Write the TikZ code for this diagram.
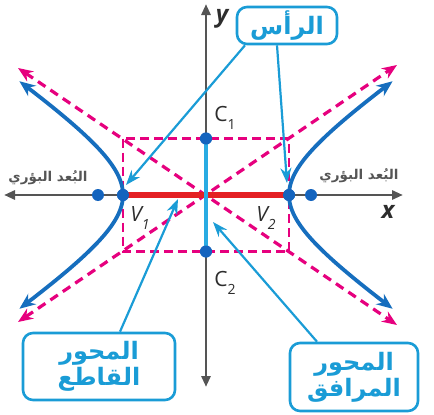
\documentclass[tikz,border=0pt]{standalone}
\usepackage{fontspec}
\newfontfamily\arabicfont[Script=Arabic]{DejaVu Sans}
\newfontfamily\labfont{Open Sans}
\TeXXeTstate=1
\usetikzlibrary{arrows.meta}
\definecolor{hblue}{RGB}{22,110,190}
\definecolor{mag}{RGB}{230,0,126}
\definecolor{redax}{RGB}{228,32,36}
\definecolor{cyanax}{RGB}{41,171,226}
\definecolor{call}{RGB}{26,156,214}
\definecolor{axgray}{RGB}{85,85,85}
\definecolor{labgray}{RGB}{45,45,45}
\definecolor{dotblue}{RGB}{20,100,190}
\tikzset{
  axisline/.style={draw=axgray, line width=2.8pt, {Triangle[length=11pt,width=9pt]}-{Triangle[length=11pt,width=9pt]}},
  asym/.style={draw=mag, line width=3.2pt, dash pattern=on 9pt off 6pt, {Stealth[length=15pt,width=12pt]}-{Stealth[length=15pt,width=12pt]}},
  rectdash/.style={draw=mag, line width=2.8pt, dash pattern=on 9pt off 5pt},
  branch/.style={draw=hblue, line width=3.8pt, {Stealth[length=16pt,width=13pt]}-{Stealth[length=16pt,width=13pt]}},
  dotnode/.style={circle, fill=dotblue, inner sep=0pt, minimum size=12pt},
  callbox/.style={draw=call, line width=2.6pt, rounded corners=10pt, fill=white, text=call, align=center, inner sep=0pt},
  callline/.style={draw=call, line width=2.2pt, -{Stealth[length=15pt,width=11pt]}},
  lab/.style={text=labgray, inner sep=0pt, font=\labfont\fontsize{21}{21}\selectfont},
  axlab/.style={text=labgray, inner sep=0pt, font=\labfont\bfseries\itshape\fontsize{24}{24}\selectfont},
  foclab/.style={text=axgray, inner sep=0pt, font=\arabicfont\bfseries\fontsize{13.5}{14}\selectfont},
  boxfont/.style={font=\arabicfont\bfseries\fontsize{24}{26}\selectfont}
}
\newcommand{\sbs}[1]{\raisebox{-0.4em}{\fontsize{14}{14}\selectfont #1}}
\begin{document}
\begin{tikzpicture}[x=1pt,y=-1pt]
\useasboundingbox (0,0) rectangle (434,415);
\coordinate (O) at (206,195);
% axes
\coordinate (xl) at (4,195);
\coordinate (xr) at (403,195);
\coordinate (yt) at (206,4);
\coordinate (yb) at (206,387);
\draw[axisline] (xl) -- (xr);
\draw[axisline] (yb) -- (yt);
% asymptotes
\coordinate (a1) at (18,322);
\coordinate (a2) at (397,65);
\coordinate (a3) at (18,68);
\coordinate (a4) at (397,325);
\draw[asym] (a1) -- (a2);
\draw[asym] (a3) -- (a4);
% dashed rectangle
\draw[rectdash] (123,138.5) rectangle (289,251.5);
% branches
\draw[branch] plot[domain=-1.45:1.45, samples=60] ({206-83*cosh(\x)},{195+56.5*sinh(\x)});
\draw[branch] plot[domain=-1.45:1.45, samples=60] ({206+83*cosh(\x)},{195-56.5*sinh(\x)});
% dots
\node[dotnode] (V1) at (123,195) {};
\node[dotnode] (V2) at (289,195) {};
\node[dotnode] (C1) at (206,138.5) {};
\node[dotnode] (C2) at (206,251.5) {};
\node[dotnode] (F1) at (98,195) {};
\node[dotnode] (F2) at (311,195) {};
% axes of hyperbola
\draw[draw=redax, line width=5.5pt] (V1.center) -- (V2.center);
\draw[draw=cyanax, line width=4pt] (C1.center) -- (C2.center);
\node[dotnode] at (V1) {};
\node[dotnode] at (V2) {};
\node[dotnode] at (C1) {};
\node[dotnode] at (C2) {};
% labels
\node[lab] (lV1) at (140,218) {\itshape V\sbs{1}};
\node[lab] (lV2) at (266,218) {\itshape V\sbs{2}};
\node[lab] (lC1) at (225,118) {C\sbs{1}};
\node[lab] (lC2) at (225,283) {C\sbs{2}};
\node[axlab] (lx) at (388,212) {x};
\node[axlab] (ly) at (222,19) {y};
\node[foclab] (f1) at (48,178) {\beginR البُعد البؤري\endR};
\node[foclab] (f2) at (359,176) {\beginR البُعد البؤري\endR};
% callout boxes
\node[callbox, boxfont, minimum width=100pt, minimum height=37pt] (bR) at (287,25.5) {\beginR الرأس\endR};
\node[callbox, boxfont, minimum width=152pt, minimum height=67pt] (bT) at (99,366.5) {\beginR المحور\endR\\\beginR القاطع\endR};
\node[callbox, boxfont, minimum width=128pt, minimum height=68pt] (bC) at (354,377) {\beginR المحور\endR\\\beginR المرافق\endR};
% callout lines
\draw[callline] ([xshift=-42pt]bR.south) -- ([xshift=3pt,yshift=10pt]V1.center);
\draw[callline] ([xshift=-10pt]bR.south) -- ([xshift=-2pt,yshift=12pt]V2.center);
\draw[callline] ([xshift=21pt]bT.north) -- ([xshift=55pt,yshift=-4pt]V1.center);
\draw[callline] ([xshift=-37pt]bC.north) -- ([xshift=7pt,yshift=-27pt]O);
\end{tikzpicture}
\end{document}
